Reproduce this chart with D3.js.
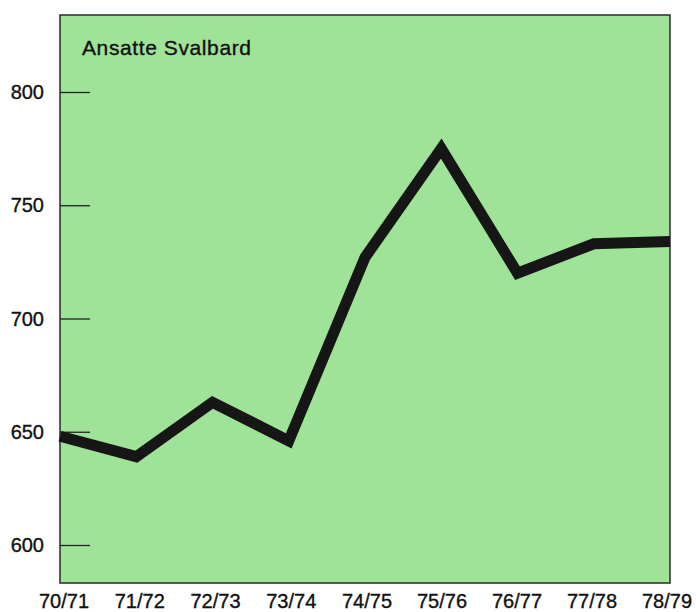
<!DOCTYPE html>
<html>
<head>
<meta charset="utf-8">
<script src="https://cdn.jsdelivr.net/npm/d3@7"></script>
<style>
  body { margin: 0; background: #fff; }
  text { font-family: "Liberation Sans", Arial, sans-serif; fill: #111; stroke: #111; stroke-width: 0.35px; }
</style>
</head>
<body>
<div id="chart"></div>
<script>
// season labels and number of employees (Svalbard)
const seasons = ["70/71","71/72","72/73","73/74","74/75","75/76","76/77","77/78","78/79"];
const employees = [648, 639, 663, 646, 727, 775, 720, 733, 734];
const yTicks = [600, 650, 700, 750, 800];
const title = "Ansatte Svalbard";

const width = 696, height = 612;
const margin = {top: 15, right: 26, bottom: 29, left: 60};

const svg = d3.select("#chart").append("svg")
  .attr("width", width)
  .attr("height", height);

let x = d3.scalePoint()
  .domain(seasons)
  .range([margin.left, width - margin.right]);

let y = d3.scaleLinear()
  .domain([600, 800])
  .range([545, 92]);

// plot background
svg.append("rect")
  .attr("x", margin.left)
  .attr("y", margin.top)
  .attr("width", width - margin.left - margin.right)
  .attr("height", height - margin.top - margin.bottom)
  .attr("fill", "#9fe398")
  .attr("stroke", "#2a2a2a")
  .attr("stroke-width", 1.5);

// y ticks drawn inward
let yAxis = d3.axisRight(y)
  .tickValues(yTicks)
  .tickSize(30)
  .tickFormat("");
let gy = svg.append("g")
  .attr("transform", `translate(${margin.left},0)`)
  .call(yAxis);
gy.select(".domain").remove();
gy.selectAll(".tick line").attr("stroke", "#222").attr("stroke-width", 1.3);

svg.append("g").selectAll("text")
  .data(yTicks)
  .enter()
  .append("text")
  .attr("x", 44)
  .attr("y", d => y(d) + 7)
  .attr("text-anchor", "end")
  .style("font-size", "20px")
  .text(d => d);

// x labels (small shift like the print)
let xShift = d3.scaleLinear().domain([0, 4, 8]).range([4, 2, -3]);
svg.append("g").selectAll("text")
  .data(seasons)
  .enter()
  .append("text")
  .attr("x", (d, i) => x(d) + xShift(i))
  .attr("y", 608)
  .attr("text-anchor", "middle")
  .style("font-size", "20px")
  .text(d => d);

// title
svg.append("text")
  .attr("x", 82)
  .attr("y", 55)
  .style("font-size", "21px")
  .style("letter-spacing", "0.6px")
  .text(title);

// line
let line = d3.line()
  .x((d, i) => x(seasons[i]))
  .y(d => y(d));

svg.append("path")
  .datum(employees)
  .attr("d", line)
  .attr("fill", "none")
  .attr("stroke", "#161616")
  .attr("stroke-width", 11)
  .attr("stroke-linejoin", "miter");
</script>
</body>
</html>
